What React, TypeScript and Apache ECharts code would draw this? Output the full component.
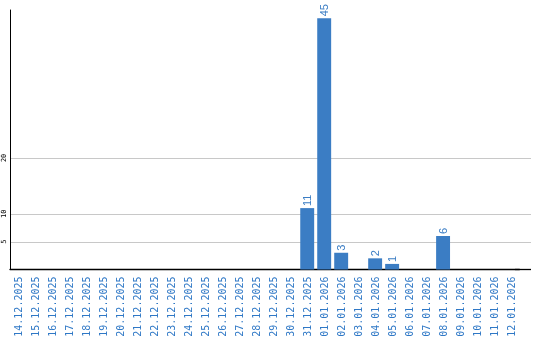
import React, { useEffect, useRef } from "react";
import * as echarts from "echarts";

const categories = [
  "14.12.2025", "15.12.2025", "16.12.2025", "17.12.2025", "18.12.2025",
  "19.12.2025", "20.12.2025", "21.12.2025", "22.12.2025", "23.12.2025",
  "24.12.2025", "25.12.2025", "26.12.2025", "27.12.2025", "28.12.2025",
  "29.12.2025", "30.12.2025", "31.12.2025", "01.01.2026", "02.01.2026",
  "03.01.2026", "04.01.2026", "05.01.2026", "06.01.2026", "07.01.2026",
  "08.01.2026", "09.01.2026", "10.01.2026", "11.01.2026", "12.01.2026",
];
const values = [
  0, 0, 0, 0, 0, 0, 0, 0, 0, 0, 0, 0, 0, 0, 0, 0, 0,
  11, 45, 3, 0, 2, 1, 0, 0, 6, 0, 0, 0, 0,
];
const gridValues = [5, 10, 20];

export default function App() {
  const ref = useRef<HTMLDivElement>(null);
  useEffect(() => {
    if (!ref.current) return;
    const chart = echarts.init(ref.current, null, { renderer: "svg" });
    const blue = "#3b7dc4";
    chart.setOption({
      animation: false,
      grid: { left: 10, right: 20.5, top: 10, bottom: 70.5, containLabel: false },
      xAxis: {
        type: "category",
        data: categories,
        axisLine: { show: true, lineStyle: { color: "#000", width: 1.3 } },
        axisTick: { show: false },
        axisLabel: {
          rotate: 90,
          interval: 0,
          color: "#2f78c6",
          fontFamily: "DejaVu Sans Mono",
          fontSize: 10,
          margin: 7,
        },
      },
      yAxis: {
        type: "value",
        min: 0,
        max: 46.5,
        interval: 5,
        axisLine: { show: true, lineStyle: { color: "#000", width: 1 } },
        axisTick: { show: false },
        splitLine: { show: false },
        axisLabel: {
          rotate: 90,
          color: "#000",
          fontFamily: "DejaVu Sans Mono",
          fontSize: 7,
          margin: 3,
          formatter: (v: number) => (gridValues.indexOf(v) >= 0 ? String(v) : ""),
        },
      },
      series: [
        {
          type: "bar",
          data: values,
          barCategoryGap: "18%",
          itemStyle: { color: blue },
          z: 3,
          label: {
            show: true,
            position: "top",
            rotate: 90,
            align: "left",
            verticalAlign: "middle",
            distance: 2,
            color: blue,
            fontFamily: "Liberation Sans",
            fontSize: 11,
            formatter: (p: any) => (p.value ? String(p.value) : ""),
          },
        },
      ],
    });
    const lines: any[] = gridValues.map((v) => {
      const y = Math.round(chart.convertToPixel({ yAxisIndex: 0 }, v) as number) + 0.5;
      return {
        type: "line",
        z: 0,
        silent: true,
        shape: { x1: 10, y1: y, x2: 531, y2: y },
        style: { stroke: "#c8c8c8", lineWidth: 1 },
      };
    });
    const y0 = chart.convertToPixel({ yAxisIndex: 0 }, 0) as number;
    lines.push({
      type: "line",
      z: 5,
      silent: true,
      shape: { x1: 515, y1: y0, x2: 531, y2: y0 },
      style: { stroke: "#000", lineWidth: 1.3 },
    });
    chart.setOption({ graphic: lines });
    return () => chart.dispose();
  }, []);
  return (
    <div
      ref={ref}
      style={{ position: "fixed", left: 0, top: 0, width: 540, height: 340 }}
    />
  );
}
